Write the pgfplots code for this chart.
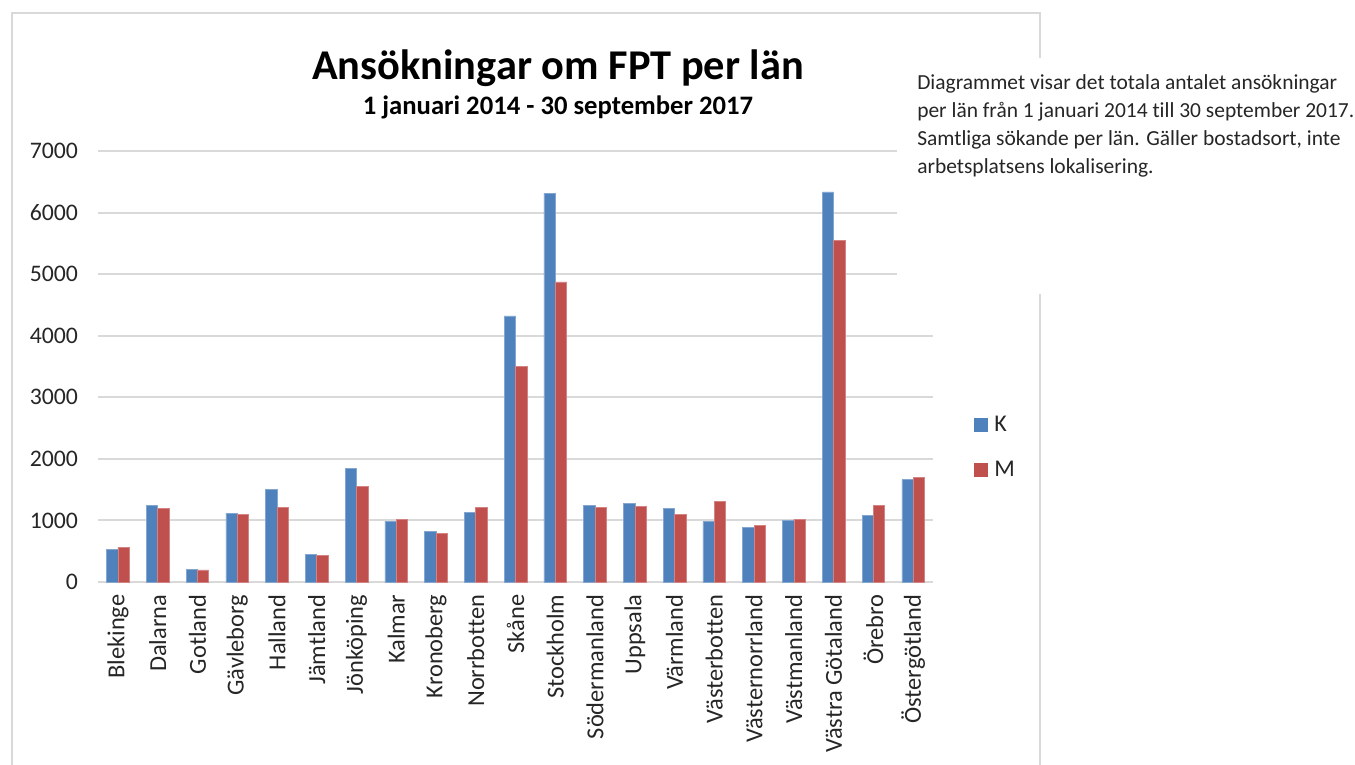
\documentclass[border=0pt]{standalone}
\usepackage{fontspec}
\setmainfont{Carlito}[Ligatures=NoCommon]
\usepackage{pgfplots}
\pgfplotsset{compat=1.18}
\definecolor{kblue}{HTML}{4F81BD}
\definecolor{mred}{HTML}{C0504D}
\definecolor{gridc}{HTML}{D9D9D9}
\definecolor{txt}{HTML}{262626}
\begin{document}
\begin{tikzpicture}
\useasboundingbox (0,0) rectangle (1016.25pt,573pt);
% chart frame (pixel coordinates, y down)
\begin{scope}[x=0.75pt,y=-0.75pt,yshift=573pt]
\draw[gridc,line width=1.5pt] (12,770) -- (12,13) -- (1040,13) -- (1040,770);
\end{scope}
\begin{axis}[
  at={(73.5pt,136.5pt)}, anchor=south west,
  scale only axis, width=626.25pt, height=323.25pt,
  ybar=0pt, bar width=8.5pt,
  xmin=-0.5, xmax=20.5, ymin=0, ymax=7000,
  ytick={0,1000,...,7000},
  xtick=data,
  xticklabels={Blekinge,Dalarna,Gotland,Gävleborg,Halland,Jämtland,Jönköping,Kalmar,Kronoberg,Norrbotten,Skåne,Stockholm,Södermanland,Uppsala,Värmland,Västerbotten,Västernorrland,Västmanland,Västra Götaland,Örebro,Östergötland},
  x tick label style={rotate=90, anchor=east, font=\fontsize{18.3}{21}\selectfont, text=txt},
  y tick label style={font=\fontsize{17.8}{21}\selectfont, text=txt},
  /pgf/number format/assume math mode=true,
  /pgf/number format/1000 sep={},
  xticklabel shift=6pt, yticklabel shift=11.5pt,
  major tick length=0pt,
  ymajorgrids, grid style={gridc, line width=1.5pt},
  axis line style={draw=none},
  axis x line*=bottom, axis y line*=left,
  clip=false,
]
\draw[gridc,line width=1.5pt] (axis cs:-0.5,0) -- (axis cs:20.5,0);
\addplot[fill=kblue, draw=kblue!70!white, line width=0.4pt] coordinates {
(0,525) (1,1239) (2,211) (3,1120) (4,1510) (5,450) (6,1846) (7,990) (8,817) (9,1131)
(10,4323) (11,6315) (12,1239) (13,1271) (14,1196) (15,979) (16,893) (17,1001) (18,6336) (19,1076) (20,1661)};
\addplot[fill=mred, draw=mred!70!white, line width=0.4pt] coordinates {
(0,568) (1,1196) (2,195) (3,1099) (4,1218) (5,433) (6,1553) (7,1023) (8,784) (9,1218)
(10,3502) (11,4875) (12,1218) (13,1234) (14,1099) (15,1315) (16,914) (17,1023) (18,5547) (19,1239) (20,1705)};
\end{axis}
\begin{scope}[x=0.75pt,y=-0.75pt,yshift=573pt]
% title
\node[anchor=base, font=\bfseries\fontsize{31.8}{36}\selectfont] at (558,80) {Ansökningar om FPT per län};
\node[anchor=base, font=\bfseries\fontsize{20}{24}\selectfont] at (558,115) {1 januari 2014 - 30 september 2017};
% text box covering frame
\fill[white] (897,58) rectangle (1355,294);
\begin{scope}[every node/.style={anchor=base west, inner sep=0pt, font=\fontsize{16.1}{21}\selectfont, text=txt}]
\node at (917,90) {Diagrammet visar det totala antalet ansökningar};
\node at (917,118) {per län från 1 januari 2014 till 30 september 2017.};
\node at (917,146) {Samtliga sökande per län. Gäller bostadsort, inte};
\node at (917,174) {arbetsplatsens lokalisering.};
\end{scope}
% legend
\fill[kblue] (974,418) rectangle (988,432);
\node[anchor=base west, font=\fontsize{18}{21}\selectfont, text=txt, inner sep=0pt] at (994,432) {K};
\fill[mred] (974,463) rectangle (988,477);
\node[anchor=base west, font=\fontsize{18}{21}\selectfont, text=txt, inner sep=0pt] at (994,477) {M};
\end{scope}
\end{tikzpicture}
\end{document}
